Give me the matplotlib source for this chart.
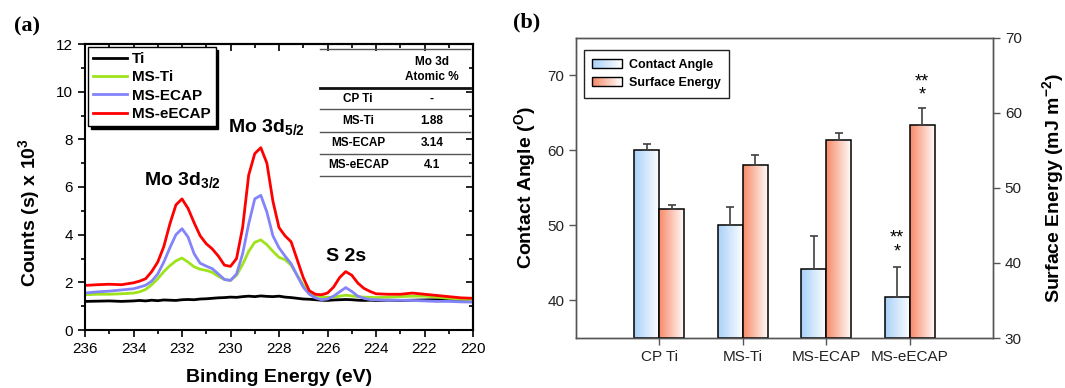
import numpy as np
import matplotlib
matplotlib.use('Agg')
import matplotlib.pyplot as plt
from matplotlib.patches import Rectangle
from matplotlib.legend_handler import HandlerBase
from matplotlib.colors import LinearSegmentedColormap, to_rgb
from matplotlib.ticker import MultipleLocator
from matplotlib import font_manager

plt.rcParams['font.family'] = ['Liberation Sans', 'DejaVu Sans']
plt.rcParams['mathtext.fontset'] = 'custom'
plt.rcParams['mathtext.rm'] = 'Liberation Sans'
plt.rcParams['mathtext.it'] = 'Liberation Sans:italic'
plt.rcParams['mathtext.bf'] = 'Liberation Sans:bold'

# ---------------- data: panel (a) XPS Mo 3d / S 2s ----------------
energy = [236, 235.5, 235, 234.5, 234, 233.75, 233.5, 233.25, 233, 232.75,
          232.5, 232.25, 232, 231.75, 231.5, 231.25, 231, 230.75, 230.5, 230.25,
          230, 229.75, 229.5, 229.25, 229, 228.75, 228.5, 228.25, 228, 227.75,
          227.5, 227.25, 227, 226.75, 226.5, 226.25, 226, 225.75, 225.5, 225.25,
          225, 224.75, 224.5, 224.25, 224, 223.5, 223, 222.5, 222, 221.5,
          221, 220.5, 220]
ti = [1.20, 1.21, 1.22, 1.20, 1.22, 1.24, 1.22, 1.25, 1.23, 1.26,
      1.25, 1.24, 1.27, 1.28, 1.27, 1.30, 1.31, 1.33, 1.35, 1.36,
      1.38, 1.37, 1.40, 1.42, 1.40, 1.43, 1.41, 1.40, 1.42, 1.38,
      1.36, 1.33, 1.30, 1.29, 1.27, 1.25, 1.24, 1.26, 1.27, 1.28,
      1.27, 1.25, 1.24, 1.25, 1.24, 1.25, 1.24, 1.25, 1.26, 1.27,
      1.28, 1.29, 1.30]
ms_ti = [1.48, 1.50, 1.50, 1.52, 1.55, 1.60, 1.70, 1.90, 2.15, 2.45,
         2.70, 2.90, 3.02, 2.85, 2.65, 2.55, 2.50, 2.42, 2.25, 2.12,
         2.08, 2.30, 2.75, 3.30, 3.68, 3.78, 3.58, 3.30, 3.05, 2.95,
         2.72, 2.30, 1.90, 1.60, 1.45, 1.40, 1.37, 1.38, 1.42, 1.46,
         1.43, 1.40, 1.38, 1.37, 1.36, 1.38, 1.40, 1.42, 1.42, 1.38,
         1.33, 1.30, 1.28]
ms_ecap = [1.55, 1.60, 1.63, 1.68, 1.73, 1.80, 1.88, 2.05, 2.35, 2.85,
           3.45, 4.00, 4.25, 3.90, 3.20, 2.80, 2.68, 2.57, 2.35, 2.12,
           2.08, 2.35, 3.20, 4.45, 5.50, 5.65, 4.95, 3.95, 3.45, 3.10,
           2.78, 2.28, 1.80, 1.50, 1.35, 1.27, 1.30, 1.42, 1.60, 1.78,
           1.62, 1.42, 1.33, 1.28, 1.27, 1.25, 1.25, 1.24, 1.22, 1.20,
           1.20, 1.18, 1.17]
ms_eecap = [1.87, 1.90, 1.92, 1.90, 1.98, 2.05, 2.15, 2.45, 2.85, 3.50,
            4.45, 5.25, 5.50, 5.10, 4.50, 3.95, 3.62, 3.40, 3.10, 2.72,
            2.67, 3.00, 4.30, 6.50, 7.40, 7.65, 7.00, 5.40, 4.30, 3.95,
            3.70, 2.95, 2.20, 1.65, 1.50, 1.48, 1.55, 1.80, 2.20, 2.45,
            2.30, 1.97, 1.75, 1.62, 1.52, 1.50, 1.50, 1.55, 1.50, 1.45,
            1.40, 1.35, 1.33]
series_names = ['Ti', 'MS-Ti', 'MS-ECAP', 'MS-eECAP']
series_colors = ['#000000', '#9ee31c', '#8383fb', '#ff0000']

table_samples = ['CP Ti', 'MS-Ti', 'MS-ECAP', 'MS-eECAP']
table_mo = ['-', '1.88', '3.14', '4.1']

# ---------------- data: panel (b) wettability ----------------
groups = ['CP Ti', 'MS-Ti', 'MS-ECAP', 'MS-eECAP']
contact_angle = [60.0, 50.1, 44.2, 40.4]
contact_err = [0.8, 2.3, 4.4, 4.1]
surface_energy = [47.2, 53.0, 56.4, 58.4]
surface_err = [0.5, 1.4, 0.9, 2.2]

W, H = 1065, 388
fig = plt.figure(figsize=(W / 100, H / 100), dpi=100)

# ================= panel (a) =================
axA = fig.add_axes([85 / W, 1 - 330 / H, 388 / W, 286 / H])
for name, vals, col in zip(series_names, [ti, ms_ti, ms_ecap, ms_eecap], series_colors):
    axA.plot(energy, vals, color=col, lw=2.0, label=name)
axA.set_xlim(236, 220)
axA.set_ylim(0, 12)
axA.xaxis.set_major_locator(MultipleLocator(2))
axA.xaxis.set_minor_locator(MultipleLocator(1))
axA.yaxis.set_major_locator(MultipleLocator(2))
axA.yaxis.set_minor_locator(MultipleLocator(1))
axA.tick_params(which='both', direction='out', width=1.2, labelsize=11, colors='black')
axA.tick_params(which='major', length=5)
axA.tick_params(which='minor', length=3)
for s in axA.spines.values():
    s.set_linewidth(1.5)

sx = axA.secondary_xaxis('top')
sx.xaxis.set_major_locator(MultipleLocator(2))
sx.xaxis.set_minor_locator(MultipleLocator(1))
sx.tick_params(which='both', direction='in', width=1.2, labeltop=False)
sx.tick_params(which='major', length=5)
sx.tick_params(which='minor', length=3)
sx.spines['top'].set_linewidth(1.5)
sy = axA.secondary_yaxis('right')
sy.yaxis.set_major_locator(MultipleLocator(2))
sy.yaxis.set_minor_locator(MultipleLocator(1))
sy.tick_params(which='both', direction='in', width=1.2, labelright=False)
sy.tick_params(which='major', length=5)
sy.tick_params(which='minor', length=3)
sy.spines['right'].set_linewidth(1.5)

axA.set_xlabel('Binding Energy (eV)', fontsize=14, fontweight='bold')
axA.xaxis.set_label_coords(0.5, -0.135)
axA.set_ylabel(r'Counts (s) x 10$^{\mathbf{3}}$', fontsize=14, fontweight='bold')
axA.yaxis.set_label_coords(-0.11, 0.41)

leg = axA.legend(loc='upper left', bbox_to_anchor=(0.008, 0.99), borderaxespad=0,
                 prop={'weight': 'bold', 'size': 11}, frameon=True, fancybox=False,
                 edgecolor='black', framealpha=1,
                 shadow={'color': 'black', 'alpha': 1},
                 handlelength=2.2, handletextpad=0.3, labelspacing=0.28, borderpad=0.35)
leg.get_frame().set_linewidth(1.0)

axA.text(232.0, 6.3, r'Mo 3d$_{\mathbf{3/2}}$', ha='center', va='center', fontsize=14, fontweight='bold')
axA.text(228.5, 8.5, r'Mo 3d$_{\mathbf{5/2}}$', ha='center', va='center', fontsize=14, fontweight='bold')
axA.text(225.25, 3.1, 'S 2s', ha='center', va='center', fontsize=14, fontweight='bold')

# inset table
fams = {f.name for f in font_manager.fontManager.ttflist}
tfam = ['Liberation Sans Narrow'] if 'Liberation Sans Narrow' in fams else ['Liberation Sans']
tsize = 9.5 if 'Liberation Sans Narrow' in fams else 8.5
tx0, tx1 = 0.606, 0.992
for yy, lw, col in [(0.9825, 1.0, '#555555'), (0.846, 2.0, '#111111'), (0.773, 1.0, '#555555'),
                    (0.692, 1.0, '#555555'), (0.615, 1.0, '#555555'), (0.538, 1.0, '#555555')]:
    axA.plot([tx0, tx1], [yy, yy], transform=axA.transAxes, color=col, lw=lw, clip_on=False)
c1, c2 = 0.704, 0.894
axA.text(c2, 0.937, 'Mo 3d', transform=axA.transAxes, ha='center', va='center',
         fontsize=tsize, fontweight='bold', family=tfam)
axA.text(c2, 0.885, 'Atomic %', transform=axA.transAxes, ha='center', va='center',
         fontsize=tsize, fontweight='bold', family=tfam)
row_y = [0.808, 0.731, 0.654, 0.577]
for yy, samp, val in zip(row_y, table_samples, table_mo):
    axA.text(c1, yy, samp, transform=axA.transAxes, ha='center', va='center',
             fontsize=tsize, fontweight='bold', family=tfam)
    axA.text(c2, yy, val, transform=axA.transAxes, ha='center', va='center',
             fontsize=tsize, fontweight='bold', family=tfam)

fig.text(27 / W, 1 - 26 / H, '(a)', ha='center', va='center', fontsize=16,
         fontweight='bold', family='Liberation Serif')
fig.text(527 / W, 1 - 22 / H, '(b)', ha='center', va='center', fontsize=16,
         fontweight='bold', family='Liberation Serif')

# ================= panel (b) =================
axB = fig.add_axes([576 / W, 1 - 338 / H, 417 / W, 300.5 / H])
axB2 = axB.twinx()
x = np.arange(len(groups))
bw = 0.3
blue0 = '#a9d1f9'
red0 = '#f78a68'
ca_min, ca_max = 35, 75
se_min, se_max = 30, 70


def grad_cmap(c0):
    return LinearSegmentedColormap.from_list('g', [to_rgb(c0), (1, 1, 1)])


def gradient_bars(ax, bars, c0):
    cm = grad_cmap(c0)
    g = np.linspace(0, 1, 128).reshape(1, -1)
    for p in bars:
        x0, y0 = p.get_x(), p.get_y()
        im = ax.imshow(g, extent=[x0, x0 + p.get_width(), y0, y0 + p.get_height()],
                       aspect='auto', cmap=cm, zorder=1.5, interpolation='bilinear')
        im.set_clip_path(p)
        p.set_facecolor('none')


bc = axB.bar(x - bw / 2, np.array(contact_angle) - ca_min, bw, bottom=ca_min,
             edgecolor='black', linewidth=1.1, zorder=2)
axB.errorbar(x - bw / 2, contact_angle, yerr=[np.zeros(4), contact_err], fmt='none',
             ecolor='#404040', elinewidth=1.2, capsize=3.2, capthick=1.2, zorder=2.5)
gradient_bars(axB, bc, blue0)
bs = axB2.bar(x + bw / 2, np.array(surface_energy) - se_min, bw, bottom=se_min,
              edgecolor='black', linewidth=1.1, zorder=2)
axB2.errorbar(x + bw / 2, surface_energy, yerr=[np.zeros(4), surface_err], fmt='none',
              ecolor='#404040', elinewidth=1.2, capsize=3.2, capthick=1.2, zorder=2.5)
gradient_bars(axB2, bs, red0)

axB.set_xlim(-1, 4)
axB2.set_xlim(-1, 4)
axB.set_ylim(ca_min, ca_max)
axB2.set_ylim(se_min, se_max)
axB.set_xticks(x)
axB.set_xticklabels(groups)
axB.set_yticks([40, 50, 60, 70])
axB2.set_yticks([30, 40, 50, 60, 70])
for a in (axB, axB2):
    a.tick_params(direction='out', length=5, width=1, color='#555555',
                  labelsize=11, labelcolor='#222222')
    for s in a.spines.values():
        s.set_color('#555555')
        s.set_linewidth(1.0)

axB.set_ylabel(r'Contact Angle ($^{\mathbf{O}}$)', fontsize=14, fontweight='bold')
axB.yaxis.set_label_coords(-0.09, 0.5)
axB2.set_ylabel(r'Surface Energy (mJ m$^{\mathbf{-2}}$)', fontsize=14, fontweight='bold')
axB2.yaxis.set_label_coords(1.112, 0.5)

# significance marks
axB2.text(3 + bw / 2, 63.2, '**\n*', ha='center', va='center', fontsize=13, linespacing=0.75)
axB.text(3 - bw / 2, 47.4, '**\n*', ha='center', va='center', fontsize=13, linespacing=0.75)


class GradHandler(HandlerBase):
    def __init__(self, c0):
        super().__init__()
        self.c0 = np.array(to_rgb(c0))

    def create_artists(self, legend, orig_handle, xdescent, ydescent, width, height,
                       fontsize, trans):
        arts = []
        n = 24
        for i in range(n):
            t = i / (n - 1)
            col = self.c0 * (1 - t) + np.ones(3) * t
            arts.append(Rectangle((-xdescent + width * i / n, -ydescent), width / n + 0.3, height,
                                  facecolor=col, edgecolor='none', transform=trans))
        arts.append(Rectangle((-xdescent, -ydescent), width, height, facecolor='none',
                              edgecolor='black', linewidth=1.0, transform=trans))
        return arts


h1 = Rectangle((0, 0), 1, 1)
h2 = Rectangle((0, 0), 1, 1)
legB = axB2.legend([h1, h2], ['Contact Angle', 'Surface Energy'],
                   handler_map={h1: GradHandler(blue0), h2: GradHandler(red0)},
                   loc='upper left', bbox_to_anchor=(0.018, 0.958), borderaxespad=0,
                   prop={'weight': 'bold', 'size': 9}, fancybox=False, edgecolor='#222222',
                   framealpha=1, handlelength=2.4, handleheight=0.75, handletextpad=0.5,
                   labelspacing=0.5, borderpad=0.7)
legB.get_frame().set_linewidth(1.0)

fig.savefig('out.png', dpi=100)
